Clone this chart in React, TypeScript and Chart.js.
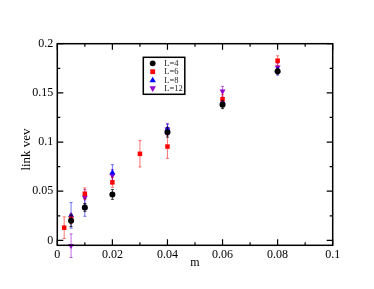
import React, { useEffect, useRef } from 'react';
import { Chart, registerables } from 'chart.js';
Chart.register(...registerables);

const xTickValues = [0, 0.02, 0.04, 0.06, 0.08, 0.1];
const xTickLabels = ['0', '0.02', '0.04', '0.06', '0.08', '0.1'];
const xMinorValues = [0.01, 0.03, 0.05, 0.07, 0.09];
const yTickValues = [0, 0.05, 0.1, 0.15, 0.2];
const yTickLabels = ['0', '0.05', '0.1', '0.15', '0.2'];
const yMinorValues = [0.025, 0.075, 0.125, 0.175];
const xTitle = 'm';
const yTitle = 'link vev';

const seriesNames = ['L=4', 'L=6', 'L=8', 'L=12'];

const mL4 = [0.005, 0.01, 0.02, 0.04, 0.06, 0.08];
const vL4 = [0.02, 0.0335, 0.0467, 0.11, 0.138, 0.172];
const eL4 = [0.006, 0.004, 0.005, 0.005, 0.004, 0.003];

const mL6 = [0.0025, 0.005, 0.01, 0.02, 0.03, 0.04, 0.06, 0.08];
const vL6 = [0.0129, 0.022, 0.0474, 0.059, 0.088, 0.0954, 0.1435, 0.1827];
const eL6 = [0.011, 0.005, 0.006, 0.005, 0.0134, 0.012, 0.005, 0.005];

const mL8 = [0.005, 0.01, 0.02, 0.04, 0.06, 0.08];
const vL8 = [0.0254, 0.0335, 0.069, 0.113, 0.141, 0.172];
const eL8 = [0.013, 0.009, 0.008, 0.005, 0.004, 0.004];

const mL12 = [0.005, 0.01, 0.02, 0.04, 0.06, 0.08];
const vL12 = [-0.0054, 0.0437, 0.066, 0.113, 0.1516, 0.176];
const eL12 = [0.012, 0.008, 0.006, 0.006, 0.005, 0.004];

const colors = ['#000000', '#ff0000', '#0000ff', '#9400d3'];
const errColors = ['rgba(0,0,0,0.75)', 'rgba(255,0,0,0.55)', 'rgba(0,0,255,0.55)', 'rgba(148,0,211,0.6)'];
const styles = ['circle', 'rect', 'triangle', 'triangle'];
const rotations = [0, 0, 0, 180];
const radii = [3, 3.2, 3.4, 3.4];

const FONT = '"Liberation Serif", "Times New Roman", serif';

function drawMarker(ctx: CanvasRenderingContext2D, idx: number, x: number, y: number) {
  ctx.fillStyle = colors[idx];
  ctx.beginPath();
  if (idx === 0) {
    ctx.arc(x, y, 2.9, 0, Math.PI * 2);
  } else if (idx === 1) {
    ctx.rect(x - 2.4, y - 2.4, 4.8, 4.8);
  } else if (idx === 2) {
    ctx.moveTo(x, y - 3.4);
    ctx.lineTo(x + 3.2, y + 2.2);
    ctx.lineTo(x - 3.2, y + 2.2);
    ctx.closePath();
  } else {
    ctx.moveTo(x, y + 3.4);
    ctx.lineTo(x + 3.2, y - 2.2);
    ctx.lineTo(x - 3.2, y - 2.2);
    ctx.closePath();
  }
  ctx.fill();
}

const errorBarPlugin = {
  id: 'errorBars',
  beforeDatasetDraw(chart: any, args: any) {
    const ds = chart.data.datasets[args.index];
    const errs: number[] = ds.errors;
    if (!errs) return;
    const ys = chart.scales.y;
    const ctx = chart.ctx;
    ctx.save();
    ctx.strokeStyle = errColors[args.index];
    ctx.lineWidth = 1;
    args.meta.data.forEach((pt: any, i: number) => {
      const v = ds.data[i].y;
      const top = ys.getPixelForValue(v + errs[i]);
      const bot = ys.getPixelForValue(v - errs[i]);
      const x = pt.x;
      ctx.beginPath();
      ctx.moveTo(x, top);
      ctx.lineTo(x, bot);
      ctx.moveTo(x - 1.5, top);
      ctx.lineTo(x + 1.5, top);
      ctx.moveTo(x - 1.5, bot);
      ctx.lineTo(x + 1.5, bot);
      ctx.stroke();
    });
    ctx.restore();
  },
};

const frameLegendPlugin = {
  id: 'frameLegend',
  afterDraw(chart: any) {
    const ctx = chart.ctx;
    const { left, right, top, bottom } = chart.chartArea;
    const xs = chart.scales.x;
    const ys = chart.scales.y;
    ctx.save();
    ctx.strokeStyle = '#000';
    ctx.lineWidth = 1.5;
    ctx.strokeRect(left, top, right - left, bottom - top);
    ctx.lineWidth = 1.2;
    ctx.beginPath();
    const tick = (vals: number[], len: number) => {
      vals.forEach((v) => {
        const px = xs.getPixelForValue(v);
        ctx.moveTo(px, bottom);
        ctx.lineTo(px, bottom - len);
        ctx.moveTo(px, top);
        ctx.lineTo(px, top + len);
      });
    };
    const tickY = (vals: number[], len: number) => {
      vals.forEach((v) => {
        const py = ys.getPixelForValue(v);
        ctx.moveTo(left, py);
        ctx.lineTo(left + len, py);
        ctx.moveTo(right, py);
        ctx.lineTo(right - len, py);
      });
    };
    tick(xTickValues, 6);
    tick(xMinorValues, 3);
    tickY(yTickValues, 6);
    tickY(yMinorValues, 3);
    ctx.stroke();

    // y title
    ctx.save();
    ctx.translate(left - 31, (top + bottom) / 2 + 5);
    ctx.rotate(-Math.PI / 2);
    ctx.fillStyle = '#000';
    ctx.font = '13px ' + FONT;
    ctx.textAlign = 'center';
    ctx.textBaseline = 'middle';
    ctx.fillText(yTitle, 0, 0);
    ctx.restore();

    // legend
    const lx = left + 86;
    const ly = top + 13.6;
    ctx.lineWidth = 1.5;
    ctx.strokeRect(lx, ly, 41.5, 37);
    ctx.font = '8.5px ' + FONT;
    ctx.textBaseline = 'middle';
    ctx.textAlign = 'left';
    seriesNames.forEach((name, i) => {
      const ry = ly + 6 + i * 8.4;
      drawMarker(ctx, i, lx + 9.4, ry);
      ctx.fillStyle = '#222';
      ctx.fillText(name, lx + 21, ry + 0.5);
    });
    ctx.restore();
  },
};

export default function App() {
  const ref = useRef<HTMLCanvasElement>(null);
  useEffect(() => {
    document.body.style.margin = '0';
    const xsArr = [mL4, mL6, mL8, mL12];
    const vsArr = [vL4, vL6, vL8, vL12];
    const esArr = [eL4, eL6, eL8, eL12];
    const datasets = seriesNames.map((name, i) => ({
      label: name,
      data: xsArr[i].map((m, j) => ({ x: m, y: vsArr[i][j] })),
      errors: esArr[i],
      pointStyle: styles[i],
      rotation: rotations[i],
      pointRadius: radii[i],
      pointBackgroundColor: colors[i],
      pointBorderColor: colors[i],
      pointBorderWidth: 0,
      showLine: false,
      clip: false,
    }));
    const chart = new Chart(ref.current as HTMLCanvasElement, {
      type: 'scatter',
      data: { datasets: datasets as any },
      plugins: [errorBarPlugin, frameLegendPlugin],
      options: {
        responsive: false,
        animation: false,
        layout: { padding: { left: 0, top: 43.7, right: 41.3, bottom: 0 } },
        plugins: { legend: { display: false }, tooltip: { enabled: false } },
        scales: {
          x: {
            type: 'linear',
            min: 0,
            max: 0.1,
            grid: { display: false, drawTicks: false },
            border: { display: false },
            afterBuildTicks: (s: any) => {
              s.ticks = xTickValues.map((v) => ({ value: v }));
            },
            afterFit: (s: any) => {
              s.height = 43.7;
            },
            ticks: {
              padding: 2,
              maxRotation: 0,
              color: '#000',
              font: { family: FONT, size: 12 },
              callback: (_v: any, i: number) => xTickLabels[i],
            },
            title: {
              display: true,
              text: xTitle,
              color: '#000',
              font: { family: FONT, size: 12 },
              padding: { top: 0, bottom: 19 },
            },
          },
          y: {
            type: 'linear',
            min: -0.005,
            max: 0.2,
            grid: { display: false, drawTicks: false },
            border: { display: false },
            afterBuildTicks: (s: any) => {
              s.ticks = yTickValues.map((v) => ({ value: v }));
            },
            afterFit: (s: any) => {
              s.width = 57.3;
            },
            ticks: {
              padding: 4,
              color: '#000',
              font: { family: FONT, size: 12 },
              callback: (_v: any, i: number) => yTickLabels[i],
            },
            title: { display: false },
          },
        },
      },
    });
    return () => chart.destroy();
  }, []);
  return (
    <div style={{ width: 374, height: 289 }}>
      <canvas ref={ref} width={374} height={289} style={{ display: 'block' }} />
    </div>
  );
}
